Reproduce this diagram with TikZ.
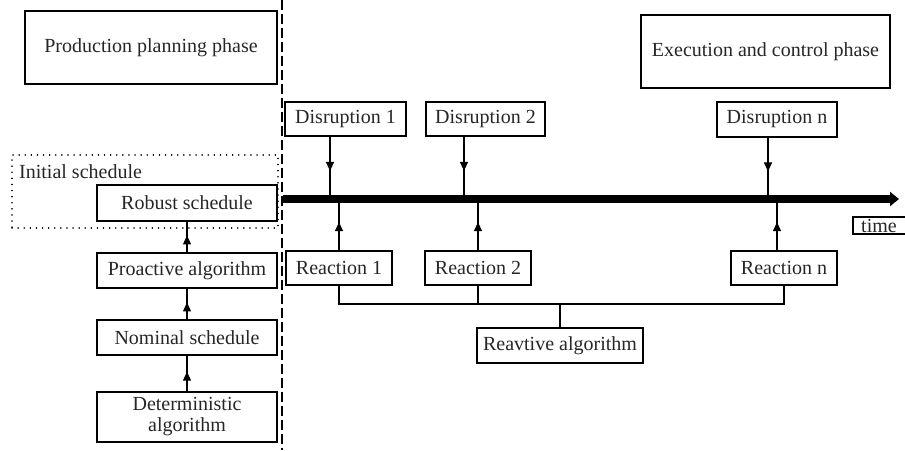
\documentclass[tikz,border=0pt]{standalone}
\usepackage{fontspec}
\setmainfont{Liberation Serif}
\usetikzlibrary{arrows.meta,decorations.markings}
\begin{document}
\begin{tikzpicture}[x=1pt,y=-1pt,
  every node/.style={font=\fontsize{20}{22}\selectfont, text=black!85},
  box/.style={draw, line width=1.3pt, inner sep=0pt, align=center},
  midarrow/.style={line width=1.2pt, postaction={decorate}, decoration={markings,
      mark=at position 0.55 with {\arrow{Triangle[length=9pt,width=8pt]}}}},
  plain/.style={line width=1.2pt}]
\useasboundingbox (0,0) rectangle (905,450);

% phase titles
\node[box, minimum width=252, minimum height=73] (ppp) at (151,47.5) {Production planning phase};
\node[box, minimum width=249, minimum height=73] (ecp) at (765.5,51.5) {Execution and control phase};

% boundary between the two phases
\coordinate (sepT) at (282,0);
\coordinate (sepB) at (282,450);
\draw[line width=2pt, dash pattern=on 10pt off 4pt] (sepT) -- (sepB);

% initial schedule group
\node[draw, line width=1.5pt, dash pattern=on 0.1pt off 6pt, line cap=round,
      minimum width=266, minimum height=73, inner sep=0pt] (init) at (145,191.5) {};
\node[anchor=west, inner sep=0pt] (initlab) at (19,172) {Initial schedule};

% planning chain
\node[box, minimum width=180, minimum height=36] (robust) at (187,203) {Robust schedule};
\node[box, minimum width=180, minimum height=35] (proact) at (187,270.5) {Proactive algorithm};
\node[box, minimum width=180, minimum height=35] (nominal) at (187,337.5) {Nominal schedule};
\node[box, minimum width=180, minimum height=50] (determ) at (187,417) {Deterministic\\[-1pt]algorithm};

\draw[midarrow] (determ.north) -- (nominal.south);
\draw[midarrow] (nominal.north) -- (proact.south);
\draw[midarrow] (proact.north) -- (robust.south);

% time axis
\coordinate (tlS) at (283,199);
\coordinate (tlE) at (899,199);
\draw[line width=8pt, -{Triangle[length=9pt,width=14pt]}] (tlS) -- (tlE);
\node[box, minimum width=57, minimum height=17, text depth=0pt] (time) at (881.5,225.5) {\hspace*{-5pt}time};

% disruptions
\node[box, minimum width=121, minimum height=34] (d1) at (345.5,119) {Disruption 1};
\node[box, minimum width=119, minimum height=34] (d2) at (485.5,119) {Disruption 2};
\node[box, minimum width=120, minimum height=35] (dn) at (777,119.5) {Disruption n};
\coordinate (t1) at (330,199);
\coordinate (t2) at (464,199);
\coordinate (tn) at (768,199);
\draw[midarrow] (d1.south -| t1) -- (t1);
\draw[midarrow] (d2.south -| t2) -- (t2);
\draw[midarrow] (dn.south -| tn) -- (tn);

% reactions
\node[box, minimum width=106, minimum height=34] (r1) at (339,268) {Reaction 1};
\node[box, minimum width=106, minimum height=34] (r2) at (478,268) {Reaction 2};
\node[box, minimum width=106, minimum height=34] (rn) at (784,268) {Reaction n};
\coordinate (u1) at (339,199);
\coordinate (u2) at (478,199);
\coordinate (un) at (777,199);
\draw[midarrow] (r1.north) -- (u1);
\draw[midarrow] (r2.north) -- (u2);
\draw[midarrow] (rn.north -| un) -- (un);

% reactive algorithm feeding the reactions
\node[box, minimum width=166, minimum height=35] (reav) at (560,345.5) {Reavtive algorithm};
\coordinate (bus) at (560,304);
\draw[plain] (r1.south) |- (bus) -| (rn.south);
\draw[plain] (r2.south) -- (r2.south |- bus);
\draw[plain] (bus) -- (reav.north);
\end{tikzpicture}
\end{document}
